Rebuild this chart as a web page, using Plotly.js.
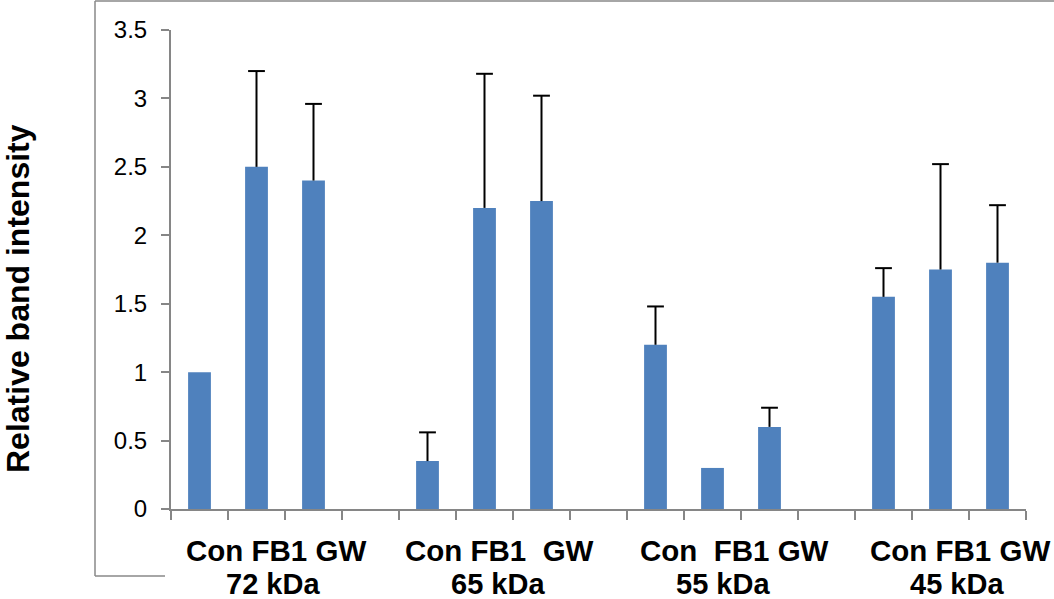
<!DOCTYPE html>
<html>
<head>
<meta charset="utf-8">
<script src="https://cdn.plot.ly/plotly-3.0.1.min.js"></script>
<style>html,body{margin:0;padding:0;background:#fff;}</style>
</head>
<body>
<div id="chart" style="width:1054px;height:599px;"></div>
<script>
// ---- data ----
const groups = ["72 kDa", "65 kDa", "55 kDa", "45 kDa"];
const conditions = ["Con", "FB1", "GW"];
const groupTickText = ["Con FB1 GW", "Con FB1\u00a0\u00a0GW", "Con\u00a0\u00a0FB1 GW", "Con FB1 GW"];
const mean72 = [1.0, 2.5, 2.4];
const mean65 = [0.35, 2.2, 2.25];
const mean55 = [1.2, 0.3, 0.6];
const mean45 = [1.55, 1.75, 1.8];
const err72 = [null, 0.70, 0.56];
const err65 = [0.21, 0.98, 0.77];
const err55 = [0.28, null, 0.14];
const err45 = [0.21, 0.77, 0.42];
const yTitle = "Relative band intensity";

// ---- build category series (spacer slot between groups) ----
const means = [mean72, mean65, mean55, mean45];
const errs = [err72, err65, err55, err45];
const cats = [], ys = [], es = [], esMinus = [], capY = [];
groups.forEach((g, gi) => {
  conditions.forEach((c, ci) => {
    const m = means[gi][ci], e = errs[gi][ci];
    cats.push(c + " " + g);
    ys.push(m);
    es.push(e);
    esMinus.push(e == null ? null : 0);
    capY.push(e == null ? null : m + e);
  });
  if (gi < groups.length - 1) {
    cats.push(" ".repeat(gi + 1));
    ys.push(null); es.push(null); esMinus.push(null); capY.push(null);
  }
});

const W = 1054, H = 599;
const M = {l: 171, r: 28, t: 30, b: 90};
const pw = W - M.l - M.r, ph = H - M.t - M.b;
const px2x = px => (px - M.l) / pw;
const py2y = py => (H - M.b - py) / ph;

const barTrace = {
  type: "bar",
  x: cats,
  y: ys,
  marker: {color: "#4F81BD"},
  error_y: {
    type: "data", symmetric: false, array: es, arrayminus: esMinus,
    visible: true, color: "#000000", thickness: 2, width: 0
  },
  hoverinfo: "x+y"
};
// error-bar caps (top only)
const capTrace = {
  type: "scatter", mode: "markers",
  x: cats, y: capY,
  marker: {symbol: "line-ew-open", size: 12, color: "#000000", line: {color: "#000000", width: 2}},
  hoverinfo: "skip", cliponaxis: false
};

const font = "Liberation Sans, Arial, sans-serif";
const annotations = [];
// y title
annotations.push({
  xref: "paper", yref: "paper", x: px2x(18), y: py2y(299),
  text: "<b>" + yTitle + "</b>", textangle: -90, showarrow: false,
  font: {family: font, size: 32, color: "#000"},
  xanchor: "center", yanchor: "middle"
});
// group labels (two lines)
const line1Offset = [1.34, 5.27, 9.38, 13.34];
const line2Offset = [1.29, 5.24, 9.18, 13.29];
groups.forEach((g, gi) => {
  annotations.push({
    xref: "x", yref: "paper", x: line1Offset[gi], y: py2y(550),
    text: "<b>" + groupTickText[gi] + "</b>", showarrow: false,
    font: {family: font, size: 29.5, color: "#000"},
    xanchor: "center", yanchor: "middle"
  });
  annotations.push({
    xref: "x", yref: "paper", x: line2Offset[gi], y: py2y(584),
    text: "<b>" + g + "</b>", showarrow: false,
    font: {family: font, size: 29, color: "#000"},
    xanchor: "center", yanchor: "middle"
  });
});

const borderColor = "#898989";
const shapes = [
  {type: "line", xref: "paper", yref: "paper", x0: px2x(95), x1: px2x(95), y0: py2y(576), y1: py2y(1), line: {color: borderColor, width: 1.5}},
  {type: "line", xref: "paper", yref: "paper", x0: px2x(95), x1: px2x(1060), y0: py2y(1), y1: py2y(1), line: {color: borderColor, width: 1.5}},
  {type: "line", xref: "paper", yref: "paper", x0: px2x(95), x1: px2x(165), y0: py2y(576), y1: py2y(576), line: {color: borderColor, width: 1.5}}
];

const layout = {
  width: W, height: H, autosize: false,
  margin: M,
  paper_bgcolor: "#ffffff", plot_bgcolor: "#ffffff",
  showlegend: false,
  bargap: 0.6,
  font: {family: font, color: "#000"},
  xaxis: {
    type: "category", range: [-0.5, cats.length - 0.5],
    showticklabels: false, tickson: "boundaries",
    ticks: "outside", ticklen: 9, tickwidth: 2, tickcolor: "#868686",
    showline: true, linecolor: "#868686", linewidth: 2,
    showgrid: false, zeroline: false, fixedrange: true
  },
  yaxis: {
    range: [0, 3.5], dtick: 0.5, tick0: 0,
    ticks: "outside", ticklen: 8, tickwidth: 2, tickcolor: "#868686",
    showline: true, linecolor: "#868686", linewidth: 2,
    showgrid: false, zeroline: false,
    tickfont: {family: font, size: 24, color: "#000"},
    ticklabelstandoff: 9, fixedrange: true
  },
  annotations: annotations,
  shapes: shapes
};

Plotly.newPlot("chart", [barTrace, capTrace], layout, {displayModeBar: false, staticPlot: true});
</script>
</body>
</html>
